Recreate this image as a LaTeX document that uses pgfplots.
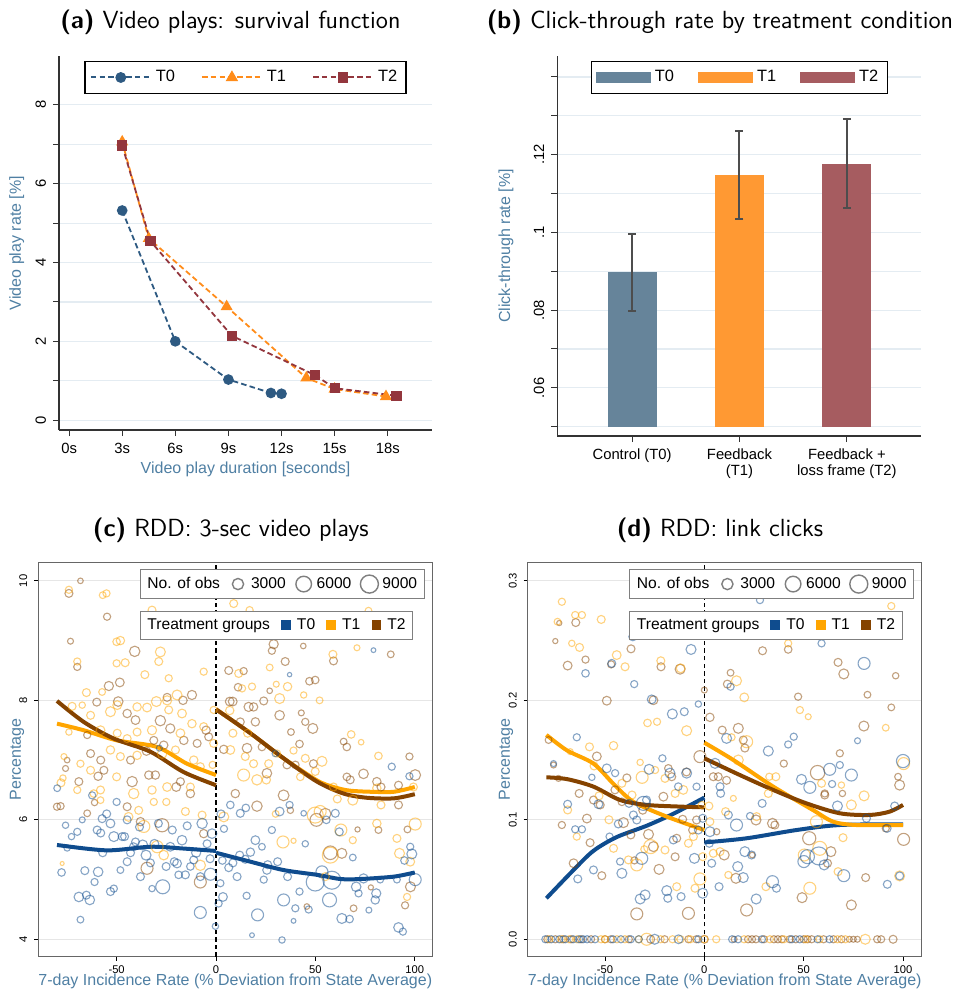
\documentclass[border=0pt]{standalone}
\usepackage{fontspec}
\setmainfont{Liberation Sans}
\usepackage{pgfplots}
\pgfplotsset{compat=1.18}
\usepackage{pgfplotstable}

\definecolor{a0}{HTML}{2E5A82}
\definecolor{a1}{HTML}{FF8C1A}
\definecolor{a2}{HTML}{93363D}
\definecolor{b0}{HTML}{66849A}
\definecolor{b1}{HTML}{FF9933}
\definecolor{b2}{HTML}{A65C60}
\definecolor{c0}{HTML}{0F4C8E}
\definecolor{c1}{HTML}{FFA500}
\definecolor{c2}{HTML}{854300}
\definecolor{labc}{HTML}{4F7FA3}
\definecolor{gridA}{HTML}{E4ECF2}
\definecolor{gridC}{HTML}{E6E6E6}
\definecolor{errc}{HTML}{4D4D4D}
\definecolor{frameC}{HTML}{666666}
\definecolor{legC}{HTML}{7F7F7F}

\pgfplotsset{
  bub/.style={scatter, only marks, mark=o, forget plot,
    point meta={\thisrow{s}}, point meta min=0, point meta max=5,
    scatter/use mapped color={draw=#1, draw opacity=0.5, line width=0.55pt},
    scatter/@pre marker code/.append style={/tikz/mark size=\pgfplotspointmetatransformed/200}},
  rdd/.style={scale only axis, anchor=south west, width=197pt, height=197.2pt,
    axis line style={frameC, line width=0.6pt},
    tick align=outside, major tick length=2pt, tick style={black, line width=0.4pt},
    xtick pos=bottom, ytick pos=left,
    ymajorgrids, grid style={gridC, line width=0.6pt},
    xticklabel style={font=\fontsize{5.6}{6.5}\selectfont, yshift=1.2pt},
    yticklabel style={font=\fontsize{5.6}{6.5}\selectfont, rotate=90, anchor=south},
    xlabel={7-day Incidence Rate (\% Deviation from State Average)},
    ylabel={Percentage},
    every axis x label/.style={at={(axis description cs:0.5,-0.063)}, anchor=center,
      font=\fontsize{8}{9.5}\selectfont, text=labc},
    every axis y label/.style={at={(axis description cs:-0.054,0.5)}, rotate=90, anchor=center,
      font=\fontsize{8}{9.5}\selectfont, text=labc},
    legend style={at={(0.258,0.982)}, anchor=north west, legend columns=4, draw=legC, line width=0.5pt,
      font=\fontsize{7.8}{9}\selectfont, inner sep=1.5pt,
      /tikz/every even column/.append style={column sep=2.5pt}},
    legend image code/.code={\path[draw=none,fill=none] (0pt,-3pt) rectangle (9pt,3pt); \draw[#1] plot coordinates {(4.5pt,0pt)};}},
  tgleg/.style={scale only axis, anchor=south west, width=197pt, height=197.2pt, hide axis,
    xmin=0, xmax=1, ymin=0, ymax=1,
    legend style={at={(0.258,0.877)}, anchor=north west, legend columns=4, draw=legC, line width=0.5pt,
      font=\fontsize{7.8}{9}\selectfont, inner sep=1.5pt,
      /tikz/every even column/.append style={column sep=2.5pt}},
    legend image code/.code={\path[draw=none,fill=none] (0pt,-3pt) rectangle (7pt,3pt); \draw[#1] plot coordinates {(3.5pt,0pt)};}},
}

% ---------------- data panel (c) ----------------
\pgfplotstableread{
x y s
-68.2 10.0 1.4
-74 9.79 2.0
-54.8 9.4 1.8
-73.2 8.99 1.5
-69.8 8.56 1.8
-40.9 8.82 2.6
-48.4 8.30 2.2
-53.9 8.24 2.3
-12.1 8.09 2.3
-16.6 8.0 2.1
-24.6 8.05 2.0
-60 7.97 2.0
-49.2 7.98 2.4
-44.7 7.78 2.1
-40.5 7.67 2.2
-28 7.66 2.6
-23 7.53 2.3
-31.3 7.33 2.0
-26.3 7.25 2.1
-16.2 7.33 2.1
-5 7.5 2.1
-3.7 7.39 2.0
-9.5 7.28 2.0
-64.8 7.42 1.8
-63.1 7.11 2.0
-58 7.0 2.0
-43 7.0 2.0
-33.8 6.75 2.1
-30.5 6.75 2.1
-42.2 6.64 2.6
-17.9 6.64 2.0
-59.3 6.73 2.1
-69 6.64 2.0
-56.4 6.83 2.0
-75.7 6.86 1.5
-74.9 7.0 1.4
-80 6.22 1.8
-78.2 6.23 1.8
-61.1 6.29 1.6
-44.7 6.22 2.0
-38 5.97 2.1
-64.8 6.11 1.7
-27.1 5.91 3.3
-6.2 5.77 2.1
-34.7 5.19 3.0
-7.9 4.96 3.0
-12.9 6.44 2.1
-35 7.15 2.1
-20 6.55 2.2
6.4 8.5 2.0
13.9 8.49 1.8
11.1 8.22 1.9
29 8.94 2.3
28.1 8.83 1.8
34.8 8.65 2.0
43.9 8.91 1.4
47 8.32 1.9
49.9 8.34 1.9
59.1 8.66 2.0
87.9 8.77 1.7
6.9 7.98 2.2
8.4 7.98 2.2
16.4 7.89 2.3
18.9 7.89 2.1
24 7.99 2.0
27 8.16 1.4
32 7.75 2.4
19.8 7.64 2.1
12.2 7.64 2.0
42.9 7.79 1.5
44.9 7.64 1.8
48.7 7.53 2.5
37.7 7.47 1.7
42 7.27 1.9
23.1 7.22 1.9
15.6 7.2 2.4
3.9 7.18 2.1
25.6 6.78 2.4
35.7 6.92 2.0
39.9 6.92 1.9
9.7 6.44 2.1
34 6.41 2.7
20.6 6.23 2.6
64.2 7.31 1.7
74.2 6.77 2.4
65.8 6.72 1.9
67.5 6.67 2.0
80.9 6.64 2.1
91.8 6.58 2.0
97.3 7.06 1.8
100.2 6.75 2.7
81.7 5.83 1.7
96.3 5.84 1.7
71.2 5.84 1.3
91.8 6.25 2.0
57.5 5.45 3.4
63.3 5.44 2.5
69.2 4.52 1.7
77.9 4.87 1.3
95.1 4.57 1.8
97.8 4.88 2.5
45.7 4.55 1.4
65.8 7.22 1.9
49 6.94 2.0
37.4 6.16 1.6
50.5 6.0 3.2
55 6.1 2.8
83 6.55 2.0
}\cTtwo
\pgfplotstableread{
x y s
-74 9.85 1.8
-55.1 9.79 1.8
-57 9.76 1.7
-32.2 9.51 2.0
-48.1 9.0 2.1
-50 8.98 1.9
-69.8 8.65 1.8
-45.7 8.63 2.0
-50 8.62 1.8
-28 8.81 2.5
-28.8 8.65 2.0
-35.8 8.43 2.0
-23.8 8.37 1.8
-6.2 8.48 1.8
-65.2 8.13 2.0
-57.3 8.14 1.7
-72.4 7.9 2.0
-67.3 7.92 1.6
-63.1 7.75 2.0
-74 7.47 1.6
-53.1 7.81 2.5
-49.7 7.92 2.2
-39.7 7.89 2.1
-34.7 7.88 2.2
-30 7.98 2.5
-24.6 8.0 2.3
-19.6 8.09 2.5
-23.8 7.84 2.0
-17.1 7.78 2.2
-12.1 7.61 2.1
-1.2 7.84 1.8
-58.1 7.5 2.2
-49.7 7.45 2.0
-44.7 7.36 2.0
-39.7 7.47 2.0
-32.2 7.5 2.3
-17.9 7.45 2.2
-6.2 7.56 2.0
-1.2 7.28 2.0
-53.1 7.17 2.1
-48.1 7.06 2.0
-39.7 7.08 2.1
-27.1 7.11 2.4
-20.4 7.17 2.0
-11.2 7.0 2.1
-7.9 6.89 2.0
-1.7 6.92 1.8
-76.5 7.06 1.5
-68.2 6.94 1.8
-63.1 6.83 2.0
-58.1 6.5 2.0
-50 6.72 2.0
-41.4 6.44 2.6
-32.2 6.5 2.1
-24.6 6.55 2.2
-12.9 6.55 2.0
-69.8 6.5 1.8
-61.5 6.44 1.9
-58.1 6.33 1.7
-31.3 6.3 1.8
-25 6.3 1.8
-38.9 6.16 2.0
-36.3 5.89 3.0
-15.4 6.14 2.0
-7 6.08 2.0
-29.6 5.55 3.0
-26.3 5.41 2.4
-7.9 5.24 2.6
-77.4 5.27 1.0
-78 6.62 2.0
-77 6.7 1.6
-44 6.05 2.2
8.9 9.62 2.0
16.9 9.51 1.8
11.4 8.45 2.0
18.1 8.23 1.8
13.1 8.2 1.8
27 8.55 1.7
30.3 8.27 1.5
36 8.23 2.1
32 8.03 2.5
44.1 8.09 1.6
52.1 8.0 1.7
58.8 8.77 2.0
70.9 8.88 1.5
76.7 9.5 1.7
94.3 9.12 1.9
6.9 7.83 2.1
8.5 7.45 2.0
7.2 7.17 2.2
15.9 7.45 2.0
14.7 7.06 2.0
18.9 6.94 2.0
13.9 6.75 3.0
26.5 6.94 2.0
25.3 6.67 2.1
30.7 7.11 1.8
39 7.16 1.8
44.9 7.03 2.0
53.3 6.98 2.5
49.9 6.81 2.0
20.6 6.67 2.6
42.4 6.72 1.9
59.1 6.55 2.0
68 7.43 1.9
73 7.3 1.4
81.7 7.07 1.9
68.8 6.33 2.5
80.9 6.53 2.1
99.3 6.55 2.0
80.9 5.94 2.1
100.2 5.93 3.0
62.8 5.83 3.0
49.9 6.08 4.0
52.4 6.14 3.0
33.7 5.63 3.0
39 5.65 1.3
68.8 5.66 1.8
91 5.69 2.0
92.3 5.44 2.5
97.7 5.3 2.2
57.5 5.41 4.0
96.1 4.71 1.8
3.9 6.05 2.5
55 5.05 2.0
83 6.25 2.0
30 6.1 1.7
61 6.35 2.0
}\cTone
\pgfplotstableread{
x y s
-79.9 6.53 1.7
-77.7 5.12 1.9
-74.9 5.53 1.6
-75.7 5.91 1.6
-69.8 5.8 1.8
-72.7 5.72 1.6
-67.3 6.0 1.5
-69 4.71 2.4
-68.2 4.33 1.7
-65.2 4.74 2.0
-63.5 4.66 2.4
-61.1 4.96 1.8
-66 5.15 2.0
-59.3 5.13 2.4
-62.3 6.41 1.8
-59.8 5.83 2.0
-57.3 6.02 2.0
-55 6.1 2.0
-53.1 5.94 2.2
-51.4 5.72 2.5
-50 6.3 1.8
-47.2 5.72 2.0
-44.7 6.0 2.0
-44.7 5.3 2.0
-43 5.45 2.0
-40.5 5.63 2.0
-36.9 5.58 2.5
-35.2 5.41 2.5
-33 5.28 2.0
-38 5.05 2.0
-48.1 5.16 1.7
-51.4 4.85 1.8
-53.1 4.8 2.0
-32.2 4.85 1.6
-26.8 4.88 3.5
-25.1 5.22 2.0
-23 5.55 2.2
-19.6 5.27 2.2
-18.8 5.08 1.9
-15.4 5.08 2.0
-17.1 5.66 2.4
-12.9 5.22 1.9
-11.2 5.33 2.0
-7.9 5.05 2.0
-7 5.94 2.6
-4.5 5.6 2.0
-2 5.77 2.4
-7.9 4.45 3.0
-2.8 5.09 3.0
-0.3 4.22 1.6
-57 5.45 2.0
-46 5.72 2.0
-58 5.78 2.0
-29 5.94 2.0
-22 5.83 2.0
-14.5 5.9 2.0
-38.5 5.88 2.0
-41.5 5.55 2.0
-28.5 7.2 1.5
-31 5.6 2.2
-21 5.3 2.0
-10 5.45 2.3
-3 5.35 2.0
2.2 4.94 1.8
3.5 4.71 2.2
1.3 4.6 1.8
3.2 5.32 1.9
6.4 5.2 2.0
8.5 5.28 2.0
10.6 5.05 2.0
15.4 4.73 1.8
11.9 5.41 2.0
14.7 5.34 2.0
17.3 5.46 2.1
19.8 5.66 2.2
24 5.0 1.8
23.1 5.55 1.7
20.9 4.41 3.0
18.1 4.07 1.2
25.6 5.16 2.1
28.1 5.83 1.8
31 5.3 2.0
32 6.14 2.2
34 4.66 3.0
33.2 3.99 1.6
36 5.05 2.0
39 4.31 1.2
39.9 4.52 1.8
42 4.8 1.8
44.1 6.11 1.4
44.9 5.6 1.6
46.6 4.5 1.8
49.9 4.96 4.5
53.3 5.13 3.0
57.1 4.66 3.5
58.3 4.99 4.5
60 6.11 2.0
63.3 4.35 2.5
67.2 4.34 1.9
68.8 5.37 1.7
70.5 4.88 2.4
71.7 4.77 1.8
74.2 5.02 2.3
76.9 4.49 1.5
80.1 4.66 2.1
80.6 4.77 2.3
82.6 5.0 1.7
88.4 6.89 1.8
91 5.0 1.7
91.8 4.2 2.4
94 4.13 1.8
97.3 6.73 1.8
97.7 5.55 1.8
98.5 5.43 2.5
100.2 5.0 3.0
94.8 5.32 1.9
79.2 8.84 1.2
37 8.43 1.1
29.8 7.11 1.6
37 6.25 1.8
12.2 6.11 2.0
7.2 6.25 1.9
2.5 6.1 2.0
15 6.2 1.9
55.5 6.0 1.9
62 5.8 2.0
4 5.85 1.8
26 5.25 2.0
}\cTzero

% ---------------- data panel (d) ----------------
\pgfplotstableread{
x y s
-75 0.2495 1.3
-73 0.2646 1.3
-64.7 0.265 2.0
-68.8 0.229 2.2
-59.8 0.234 1.8
-49.1 0.1996 2.2
-36.9 0.243 2.0
-46.9 0.230 1.8
-21.8 0.228 2.0
-12.2 0.226 2.5
-25.6 0.2 2.2
0 0.2085 1.5
13.2 0.223 1.7
11.6 0.2135 2.0
29.3 0.2414 2.0
42.2 0.2425 1.9
47.2 0.203 1.8
67.3 0.2317 2.0
70.2 0.222 2.5
82.1 0.2046 1.7
94.1 0.194 1.7
96.3 0.2205 1.6
80.3 0.1784 2.5
17.1 0.1765 2.5
9 0.175 2.0
2.8 0.1857 2.1
-2.2 0.1528 3.0
19.6 0.1667 2.0
20.4 0.16 2.0
40 0.147 1.8
68.2 0.1556 1.8
97.5 0.136 1.7
98.3 0.129 2.5
60.6 0.122 1.8
69.5 0.122 1.6
-78.4 0.1667 1.7
-75.9 0.1458 1.5
-73.4 0.1346 1.5
-54.1 0.153 2.2
-63 0.122 2.0
-55.8 0.1165 2.0
-52.4 0.1124 2.0
-39 0.135 2.0
-41.5 0.115 1.9
-71.7 0.0956 1.8
-59.1 0.101 2.2
-57.5 0.0808 2.0
-65.8 0.0636 2.2
-51.6 0.0532 2.0
-40.7 0.0976 2.5
-37 0.0873 2.0
-35.2 0.066 1.8
-28.1 0.0878 2.5
-25.6 0.0775 2.5
-20.6 0.1193 2.2
-16.4 0.136 2.0
-18.1 0.143 1.9
-14.7 0.069 2.0
-13.9 0.0845 2.0
-22.8 0.0585 2.5
-34 0.0212 3.0
-8 0.0217 3.0
-10.9 0.1004 2.0
-5.9 0.0914 2.0
-3.9 0.0998 2.0
4.5 0.136 2.0
7 0.136 2.0
11.2 0.133 2.0
10 0.0705 2.5
6.2 0.09 1.6
15.9 0.051 2.5
24.1 0.0705 1.4
26 0.0998 2.5
21.3 0.0245 3.0
34.3 0.097 2.5
35.5 0.0956 2.0
49.2 0.0348 2.5
52.8 0.0845 3.3
57 0.1394 3.6
60.6 0.1207 2.0
63.7 0.0733 2.5
62 0.0636 2.0
74 0.0287 2.5
81.2 0.0516 2.0
91.3 0.0928 1.8
100.3 0.0836 3.0
-31 0.108 2.0
-45 0.125 2.0
-9 0.14 2.0
-79 0 1.8
-75 0 1.8
-71 0 1.8
-67 0 1.8
-62 0 1.8
-57 0 1.8
-50 0 1.8
-47 0 1.8
-38 0 1.8
-27 0 2.0
-20 0 1.8
-8 0 1.8
-4 0 1.8
0 0 2.0
15 0 1.5
22 0 1.8
24 0 1.8
26 0 1.8
30 0 1.8
35 0 1.8
37 0 1.8
39 0 1.8
43 0 1.8
46 0 1.8
50 0 1.8
52 0 1.8
54 0 1.8
60 0 1.8
65 0 1.8
69 0 1.8
73 0 1.5
75 0 1.5
77 0 1.5
87 0 1.8
89 0 1.8
95 0 2.0
}\dTtwo
\pgfplotstableread{
x y s
-71.7 0.2824 1.8
-73.9 0.2657 1.7
-65 0.2713 1.8
-61.6 0.2713 1.8
-66.7 0.2476 1.6
-62.8 0.2442 2.0
-51.9 0.2676 2.0
-44.1 0.2378 2.2
-39.9 0.228 2.0
-21.9 0.233 2.0
-11.9 0.2267 2.2
20.1 0.2024 2.2
16.2 0.2163 2.5
42.2 0.2476 1.8
48.1 0.1918 1.8
52.3 0.1862 1.5
94.1 0.2788 1.8
91.3 0.177 1.7
-67.5 0.157 1.5
-57.8 0.161 2.0
-45.7 0.162 2.1
-28.6 0.181 1.9
-23.8 0.182 1.8
-8.9 0.1745 2.5
-32.3 0.148 1.6
-41.5 0.1305 2.0
-36.4 0.1207 2.0
-31.3 0.1355 3.0
-30.2 0.0753 1.8
-24.8 0.1416 1.8
-19.8 0.1346 2.0
-14.7 0.122 2.0
-10.6 0.125 2.2
-8 0.0803 2.0
-5.5 0.0859 2.0
-1.3 0.1124 1.8
-64.2 0.0859 1.8
-68.8 0.1082 2.0
-45.7 0.0761 2.0
-38.2 0.0664 2.0
-34 0.0622 3.0
-27 0.0775 3.5
-19.8 0.0747 2.0
-13.9 0.044 2.0
-4.7 0.0427 2.0
-2.2 0.0505 3.0
-0.8 0.0691 2.0
17.1 0.15 2.5
21.3 0.1653 3.0
10.7 0.1068 2.0
7.9 0.0733 2.0
4.5 0.0719 2.0
12.1 0.0538 1.8
14.6 0.1179 1.5
26.3 0.1026 2.0
32.7 0.136 1.8
36 0.136 2.0
32.2 0.122 2.0
31 0.044 2.0
53.1 0.0427 3.0
50.3 0.0705 3.0
58.1 0.0761 3.5
56.4 0.0984 3.0
59 0.1305 2.0
67.3 0.0566 2.0
69 0.129 1.6
69.8 0.085 2.0
74 0.1124 2.5
80.4 0.12 2.5
98.3 0.053 2.5
100.3 0.147 3.0
13.7 0.169 1.8
2.8 0.0984 2.0
2.3 0.1115 2.0
-53 0.12 2.0
-55.5 0.145 2.0
-48 0.1 2.0
-78 0 1.8
-72 0 1.8
-68 0 1.8
-64 0 1.8
-52 0 1.8
-50 0 1.8
-44 0 1.8
-40 0 1.8
-33 0 1.8
-29 0 3.0
-22 0 1.8
-16 0 1.8
-12 0 1.8
-7 0 1.8
0 0 1.8
6 0 1.8
20 0 1.8
33 0 1.8
40 0 1.8
51 0 1.8
58 0 1.8
67 0 1.8
71 0 1.8
81 0 2.5
}\dTone
\pgfplotstableread{
x y s
-64.2 0.169 1.8
-75.9 0.147 1.5
-68.8 0.113 2.0
-65 0.092 1.8
-61.6 0.092 1.8
-63.7 0.0505 2.0
-55.8 0.058 2.0
-56.6 0.1355 1.6
-53.3 0.113 2.2
-49.1 0.143 2.2
-44.9 0.139 1.8
-47.7 0.0859 1.8
-43.3 0.0965 2.0
-42.4 0.065 1.8
-41.5 0.0552 2.5
-46.6 0.2308 2.0
-35.3 0.2135 1.8
-36 0.2531 2.0
-59.8 0.2225 1.9
-27.8 0.1422 2.5
-26.5 0.2007 2.2
-21.1 0.1514 1.8
-16.1 0.1885 2.5
-10.1 0.1904 2.0
-3 0.1968 1.6
-6.7 0.2425 2.5
-17.3 0.139 2.5
-13.1 0.1277 1.9
-8.9 0.139 2.5
-3.9 0.1277 1.8
-30.7 0.1137 3.5
-29.1 0.1165 2.0
-37.9 0.1137 2.0
-35.7 0.104 2.0
-34 0.0998 2.0
-31.5 0.0677 3.0
-32.3 0.0337 2.5
-29.8 0.0371 2.5
-18.9 0.0407 2.5
-18.4 0.0343 2.0
-11.7 0.0357 2.0
-15.6 0.0831 2.0
-5 0.0677 2.5
-3 0.0914 2.0
-0.8 0.0385 2.5
-0.8 0.1012 2.0
2.8 0.09 2.5
2.5 0.0803 2.0
3.7 0.0636 2.0
5.4 0.1472 2.5
8.2 0.1221 2.0
11.2 0.1681 2.5
7.9 0.1277 2.0
12.1 0.104 2.0
16.2 0.0956 3.0
16.8 0.0608 2.5
19.6 0.0516 2.5
7.4 0.044 2.0
13.2 0.2113 1.8
20.4 0.0733 2.5
23.8 0.0705 2.0
23 0.1031 1.8
26.1 0.0337 2.5
29.1 0.1137 2.0
32.2 0.1575 2.5
34.3 0.0482 3.0
36.3 0.0427 2.0
42.2 0.163 1.8
45 0.1695 1.8
48.9 0.1338 2.5
53.1 0.1271 3.0
50.1 0.065 3.0
57.6 0.0697 4.5
51.9 0.0691 3.5
60.3 0.0622 2.5
63.1 0.1422 3.0
64.3 0.1299 1.8
59 0.2476 1.8
67 0.1115 2.5
68.2 0.1458 1.8
70.2 0.0532 3.0
74 0.1374 3.0
77.1 0.1661 1.5
80.4 0.2308 3.0
81.6 0.1012 2.0
92 0.0928 2.0
92.1 0.046 2.0
95.8 0.1115 2.0
100 0.1491 3.3
98.3 0.053 2.0
28 0.2838 1.8
-80 0 1.8
-77 0 1.8
-73 0 1.8
-70 0 1.8
-66 0 1.8
-63 0 1.8
-61 0 1.8
-59 0 1.8
-55 0 1.8
-46 0 1.8
-42 0 1.8
-37 0 1.8
-33 0 1.8
-25 0 2.5
-13 0 2.2
-3 0 1.8
14 0 1.8
17 0 1.8
29 0 1.8
44 0 1.8
48 0 1.8
57 0 1.8
63 0 1.8
}\dTzero

\begin{document}
\begin{tikzpicture}
\useasboundingbox (0,0) rectangle (478.5pt,-496pt);

% titles
\node[anchor=base, font=\sffamily\fontsize{12.4}{14}\selectfont] at (115.2pt,-14.2pt) {\textbf{(a)} Video plays: survival function};
\node[anchor=base, font=\sffamily\fontsize{12.4}{14}\selectfont] at (360pt,-14.2pt) {\textbf{(b)} Click-through rate by treatment condition};
\node[anchor=base, font=\sffamily\fontsize{12.4}{14}\selectfont] at (115.4pt,-268.3pt) {\textbf{(c)} RDD: 3-sec video plays};
\node[anchor=base, font=\sffamily\fontsize{12.4}{14}\selectfont] at (360pt,-268.3pt) {\textbf{(d)} RDD: link clicks};

% ---------------- (a) ----------------
\begin{axis}[
  at={(29.5pt,-215pt)}, anchor=south west, scale only axis, width=186.5pt, height=187pt,
  xmin=-0.57, xmax=20.5, ymin=-0.25, ymax=9.24,
  axis x line*=bottom, axis y line*=left,
  axis line style={black!80, line width=0.6pt},
  tick align=outside, major tick length=3pt, minor tick length=3pt,
  tick style={black!80, line width=0.5pt},
  xtick={0,3,6,9,12,15,18}, xticklabels={0s,3s,6s,9s,12s,15s,18s},
  ytick={0,2,4,6,8}, yticklabels={0,2,4,6,8},
  minor ytick={1,3,5,7},
  ymajorgrids, yminorgrids, grid style={gridA, line width=0.6pt}, minor grid style={gridA, line width=0.6pt},
  xticklabel style={font=\fontsize{7.4}{8}\selectfont},
  yticklabel style={font=\fontsize{7.4}{8}\selectfont, rotate=90, anchor=south},
  xlabel={Video play duration [seconds]}, ylabel={Video play rate [\%]},
  every axis x label/.style={at={(axis description cs:0.5,-0.104)}, anchor=center,
    font=\fontsize{8}{9.5}\selectfont, text=labc},
  every axis y label/.style={at={(axis description cs:-0.113,0.5)}, rotate=90, anchor=center,
    font=\fontsize{8}{9.5}\selectfont, text=labc},
  legend style={at={(0.5,0.987)}, anchor=north, legend columns=3, draw=black, line width=0.6pt,
    font=\fontsize{8.2}{9.5}\selectfont, inner sep=2.4pt,
    /tikz/every even column/.append style={column sep=11pt}},
  legend image code/.code={\draw[#1, line width=1pt, dash pattern=on 2.8pt off 1.6pt, mark repeat=2, mark phase=2] plot coordinates {(0pt,0pt) (15pt,0pt) (30pt,0pt)};},
]
\addplot[a0, line width=0.9pt, dash pattern=on 2.8pt off 1.6pt, mark=*, mark size=2.2pt, mark options={solid}]
  coordinates {(3,5.32) (6,2.0) (9,1.03) (11.4,0.69) (12,0.67)};
\addlegendentry{T0}
\addplot[a1, line width=0.9pt, dash pattern=on 2.8pt off 1.6pt, mark=triangle*, mark size=2.6pt, mark options={solid}]
  coordinates {(3,7.06) (4.5,4.61) (8.9,2.88) (13.4,1.07) (15,0.79) (17.9,0.6)};
\addlegendentry{T1}
\addplot[a2, line width=0.9pt, dash pattern=on 2.8pt off 1.6pt, mark=square*, mark size=2.1pt, mark options={solid}]
  coordinates {(3,6.97) (4.6,4.54) (9.2,2.14) (13.9,1.14) (15,0.81) (18.5,0.62)};
\addlegendentry{T2}
\end{axis}

% ---------------- (b) ----------------
\begin{axis}[
  at={(278.65pt,-218pt)}, anchor=south west, scale only axis, width=181.85pt, height=190pt,
  xmin=-0.696, xmax=2.69, ymin=0.0476, ymax=0.1454,
  axis x line*=bottom, axis y line*=left,
  axis line style={black!80, line width=0.6pt},
  tick align=outside, major tick length=3pt, minor tick length=3pt,
  tick style={black!80, line width=0.5pt},
  scaled y ticks=false,
  xtick={0,1,2}, xticklabels={Control (T0), {Feedback\\(T1)}, {Feedback +\\loss frame (T2)}},
  ytick={0.06,0.08,0.1,0.12}, yticklabels={.06,.08,.1,.12},
  minor ytick={0.05,0.07,0.09,0.11,0.13,0.14},
  ymajorgrids, yminorgrids, grid style={gridA, line width=0.6pt}, minor grid style={gridA, line width=0.6pt},
  xticklabel style={font=\fontsize{7.4}{7.8}\selectfont, align=center},
  yticklabel style={font=\fontsize{7.4}{8}\selectfont, rotate=90, anchor=south},
  ylabel={Click-through rate [\%]},
  every axis y label/.style={at={(axis description cs:-0.141,0.5)}, rotate=90, anchor=center,
    font=\fontsize{8}{9.5}\selectfont, text=labc},
  legend style={at={(0.5,0.987)}, anchor=north, legend columns=3, draw=black, line width=0.6pt,
    font=\fontsize{8.2}{9.5}\selectfont, inner sep=2.4pt,
    /tikz/every even column/.append style={column sep=10pt}},
  legend image code/.code={\fill[#1] (0pt,-2.75pt) rectangle (27.5pt,2.75pt);},
]
\addplot[fill=b0, draw=none] coordinates {(-0.2285,0.05) (0.2285,0.05) (0.2285,0.0898) (-0.2285,0.0898)} -- cycle;
\addlegendentry{T0}
\addplot[fill=b1, draw=none] coordinates {(0.7715,0.05) (1.2285,0.05) (1.2285,0.1147) (0.7715,0.1147)} -- cycle;
\addlegendentry{T1}
\addplot[fill=b2, draw=none] coordinates {(1.7715,0.05) (2.2285,0.05) (2.2285,0.1177) (1.7715,0.1177)} -- cycle;
\addlegendentry{T2}
\addplot[draw=none, mark=none, forget plot,
  error bars/.cd, y dir=both, y explicit,
  error bar style={draw=errc, line width=1pt},
  error mark options={rotate=90, mark size=2pt, line width=1pt, draw=errc}]
  coordinates {(0,0.0898) +- (0,0.0099) (1,0.1147) +- (0,0.0113) (2,0.1177) +- (0,0.0114)};
\end{axis}

% ---------------- (c) ----------------
\begin{axis}[rdd,
  at={(19.15pt,-478.35pt)},
  xmin=-89.4, xmax=108.8, ymin=3.71, ymax=10.31,
  xtick={-50,0,50,100}, xticklabels={-50,0,50,100},
  ytick={4,6,8,10}, yticklabels={4,6,8,10},
]
\addplot[bub=c2] table[x=x,y=y] {\cTtwo};
\addplot[bub=c1] table[x=x,y=y] {\cTone};
\addplot[bub=c0] table[x=x,y=y] {\cTzero};
\addplot[forget plot, black, line width=0.6pt, dash pattern=on 2.2pt off 1.6pt] coordinates {(0,3.71) (0,10.31)};
\addplot[forget plot, c0, line width=2pt, smooth] coordinates {(-80,5.58) (-55,5.49) (-33,5.55) (-16.3,5.52) (0,5.48)};
\addplot[forget plot, c0, line width=2pt, smooth] coordinates {(0,5.45) (17.3,5.30) (34,5.16) (50.8,5.08) (62.6,5.01) (72.6,5.01) (89.4,5.05) (100,5.12)};
\addplot[forget plot, c1, line width=2pt, smooth] coordinates {(-80,7.61) (-66.6,7.50) (-49.8,7.33) (-29.7,7.22) (-14.6,6.94) (0,6.75)};
\addplot[forget plot, c1, line width=2pt, smooth] coordinates {(0,7.85) (17.3,7.45) (34,7.03) (50.8,6.66) (59.1,6.55) (67,6.49) (78,6.47) (89.4,6.47) (100,6.55)};
\addplot[forget plot, c2, line width=2pt, smooth] coordinates {(-80,7.99) (-66.6,7.64) (-51.4,7.36) (-33,7.14) (-16.3,6.80) (0,6.58)};
\addplot[forget plot, c2, line width=2pt, smooth] coordinates {(0,7.85) (17.3,7.45) (34,7.03) (50.8,6.64) (64.2,6.44) (75.9,6.37) (89.4,6.36) (100,6.43)};
\addlegendimage{empty legend}\addlegendentry{No. of obs}
\addlegendimage{only marks, mark=o, mark size=2.8pt, draw=legC, line width=0.7pt}\addlegendentry{3000}
\addlegendimage{only marks, mark=o, mark size=3.9pt, draw=legC, line width=0.7pt}\addlegendentry{6000}
\addlegendimage{only marks, mark=o, mark size=4.5pt, draw=legC, line width=0.7pt}\addlegendentry{9000}
\end{axis}
\begin{axis}[tgleg, at={(19.15pt,-478.35pt)}]
\addplot[draw=none, forget plot] coordinates {(0,0)};
\addlegendimage{empty legend}\addlegendentry{Treatment groups}
\addlegendimage{only marks, mark=square*, mark size=2.2pt, c0}\addlegendentry{T0}
\addlegendimage{only marks, mark=square*, mark size=2.2pt, c1}\addlegendentry{T1}
\addlegendimage{only marks, mark=square*, mark size=2.2pt, c2}\addlegendentry{T2}
\end{axis}

% ---------------- (d) ----------------
\begin{axis}[rdd,
  at={(263.85pt,-478.35pt)},
  xmin=-88.9, xmax=109.4, ymin=-0.0146, ymax=0.3154,
  scaled y ticks=false,
  xtick={-50,0,50,100}, xticklabels={-50,0,50,100},
  ytick={0,0.1,0.2,0.3}, yticklabels={0.0,0.1,0.2,0.3},
  every axis y label/.style={at={(axis description cs:-0.055,0.5)}, rotate=90, anchor=center,
    font=\fontsize{8}{9.5}\selectfont, text=labc},
]
\addplot[bub=c2] table[x=x,y=y] {\dTtwo};
\addplot[bub=c1] table[x=x,y=y] {\dTone};
\addplot[bub=c0] table[x=x,y=y] {\dTzero};
\addplot[forget plot, black, line width=0.6pt, dash pattern=on 2.2pt off 1.6pt] coordinates {(0,-0.0146) (0,0.3154)};
\addplot[forget plot, c0, line width=2pt, smooth] coordinates {(-79.5,0.0343) (-65.8,0.058) (-55.8,0.074) (-44.1,0.0855) (-29,0.095) (-15.6,0.105) (0,0.1185)};
\addplot[forget plot, c0, line width=2pt, smooth] coordinates {(0,0.081) (21.3,0.0845) (46.4,0.0914) (68.2,0.0956) (100,0.0962)};
\addplot[forget plot, c1, line width=2pt, smooth] coordinates {(-79.5,0.171) (-69.1,0.158) (-55.8,0.147) (-45.7,0.130) (-35.7,0.115) (-18.9,0.1026) (0,0.0914)};
\addplot[forget plot, c1, line width=2pt, smooth] coordinates {(0,0.1645) (14.6,0.150) (34.7,0.1277) (54.8,0.108) (64.8,0.0984) (76.5,0.0956) (100,0.0956)};
\addplot[forget plot, c2, line width=2pt, smooth] coordinates {(-79.5,0.1355) (-69.1,0.134) (-55.8,0.1277) (-42.4,0.1165) (-29,0.1124) (-12.2,0.111) (0,0.1104)};
\addplot[forget plot, c2, line width=2pt, smooth] coordinates {(0,0.1514) (17.9,0.1374) (34.7,0.1249) (51.4,0.1137) (68.2,0.1054) (83.2,0.104) (93.3,0.1068) (100,0.1124)};
\addlegendimage{empty legend}\addlegendentry{No. of obs}
\addlegendimage{only marks, mark=o, mark size=2.8pt, draw=legC, line width=0.7pt}\addlegendentry{3000}
\addlegendimage{only marks, mark=o, mark size=3.9pt, draw=legC, line width=0.7pt}\addlegendentry{6000}
\addlegendimage{only marks, mark=o, mark size=4.5pt, draw=legC, line width=0.7pt}\addlegendentry{9000}
\end{axis}
\begin{axis}[tgleg, at={(263.85pt,-478.35pt)}]
\addplot[draw=none, forget plot] coordinates {(0,0)};
\addlegendimage{empty legend}\addlegendentry{Treatment groups}
\addlegendimage{only marks, mark=square*, mark size=2.2pt, c0}\addlegendentry{T0}
\addlegendimage{only marks, mark=square*, mark size=2.2pt, c1}\addlegendentry{T1}
\addlegendimage{only marks, mark=square*, mark size=2.2pt, c2}\addlegendentry{T2}
\end{axis}
\end{tikzpicture}
\end{document}
